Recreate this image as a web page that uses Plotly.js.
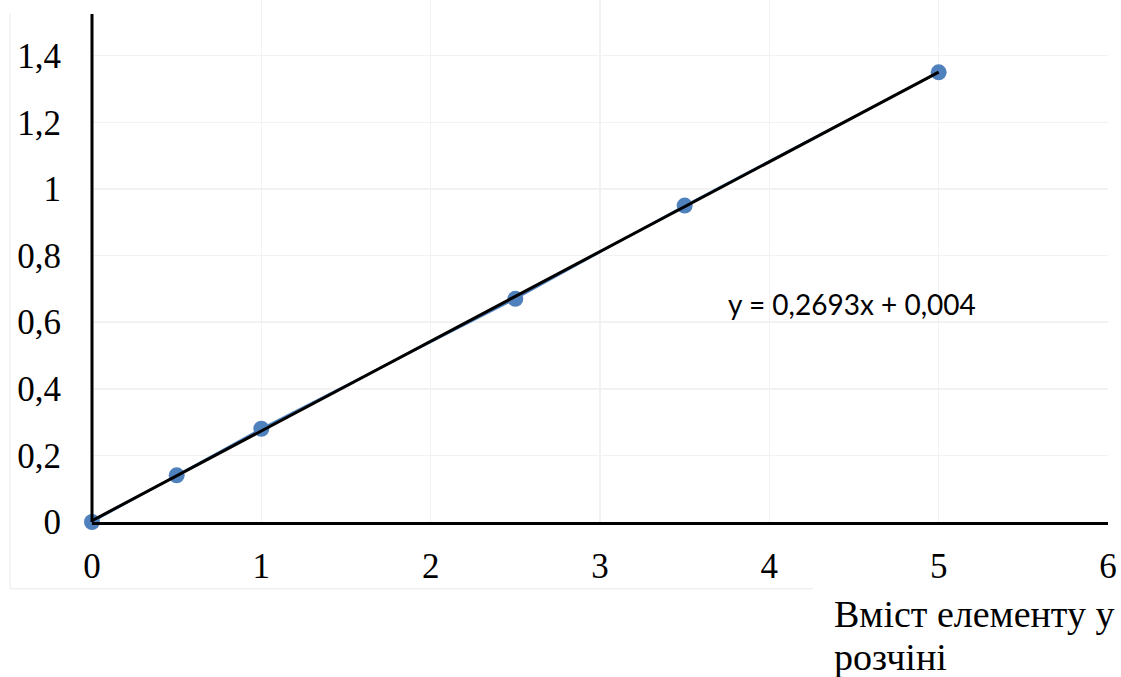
<!DOCTYPE html>
<html><head><meta charset="utf-8">
<script src="https://cdn.plot.ly/plotly-3.0.1.min.js"></script>
<style>html,body{margin:0;padding:0;background:#fff}#c{width:1121px;height:677px}</style>
</head><body><div id="c"></div>
<script>
const xVals = [0, 0.5, 1, 2.5, 3.5, 5];
const yVals = [0, 0.14, 0.28, 0.67, 0.95, 1.35];
const slope = 0.2693, intercept = 0.004;
const eqText = "y = 0,2693x + 0,004";
const xTitleLines = ["Вміст елементу у", "розчіні"];
const xTicks = [0, 1, 2, 3, 4, 5, 6];
const yTicks = [0, 0.2, 0.4, 0.6, 0.8, 1, 1.2, 1.4];
const yTickText = ["0", "0,2", "0,4", "0,6", "0,8", "1", "1,2", "1,4"];

const trendX = [xVals[0], xVals[xVals.length-1]];
const trendY = trendX.map(x => slope*x + intercept);

const serif = "Liberation Serif, Times New Roman, serif";
const data = [
  {x: xVals, y: yVals, mode: "lines+markers", type: "scatter",
   line: {color: "#4F81BD", width: 2}, marker: {color: "#4F81BD", size: 16},
   cliponaxis: false, showlegend: false, hoverinfo: "skip"},
  {x: trendX, y: trendY, mode: "lines", type: "scatter",
   line: {color: "#000000", width: 3}, showlegend: false, hoverinfo: "skip", cliponaxis: false}
];
const layout = {
  width: 1121, height: 677,
  margin: {l: 92, r: 13, t: 0, b: 155},
  paper_bgcolor: "#ffffff", plot_bgcolor: "#ffffff",
  showlegend: false,
  xaxis: {range: [0, 6], tickvals: xTicks, ticktext: xTicks.map(String),
    showgrid: true, gridcolor: "#f2f2f2", gridwidth: 1.5, zeroline: false,
    showline: true, linecolor: "#000", linewidth: 3,
    ticks: "", ticklabelstandoff: 11,
    tickfont: {family: serif, size: 35, color: "#000"}},
  yaxis: {range: [0, 1.567], tickvals: yTicks, ticktext: yTickText,
    showgrid: true, gridcolor: "#f2f2f2", gridwidth: 1.5, zeroline: false,
    showline: false, ticks: "", ticklabelstandoff: 30,
    tickfont: {family: serif, size: 35, color: "#000"}},
  shapes: [
    {type: "line", xref: "paper", yref: "y", x0: 0, x1: 0, y0: 0, y1: 1.525,
     line: {color: "#000", width: 3}},
    {type: "line", xref: "paper", yref: "paper", x0: -0.0807, x1: -0.0807, y0: 0.973, y1: -0.128,
     line: {color: "#f0f0f0", width: 1.5}},
    {type: "line", xref: "paper", yref: "paper", x0: -0.0807, x1: 0.7096, y0: -0.128, y1: -0.128,
     line: {color: "#f0f0f0", width: 1.5}}
  ],
  annotations: [
    {text: eqText, xref: "paper", yref: "paper", x: 0.748, y: 0.418,
     xanchor: "center", yanchor: "middle", showarrow: false,
     font: {family: "Lato, Carlito, sans-serif", size: 28, color: "#000"}},
    {text: xTitleLines[0], xref: "paper", yref: "paper", x: 0.7285, y: -0.176,
     xanchor: "left", yanchor: "middle", align: "left", showarrow: false,
     font: {family: serif, size: 38, color: "#000"}},
    {text: xTitleLines[1], xref: "paper", yref: "paper", x: 0.7285, y: -0.258,
     xanchor: "left", yanchor: "middle", align: "left", showarrow: false,
     font: {family: serif, size: 38, color: "#000"}}
  ]
};
Plotly.newPlot("c", data, layout, {staticPlot: true});
</script></body></html>
